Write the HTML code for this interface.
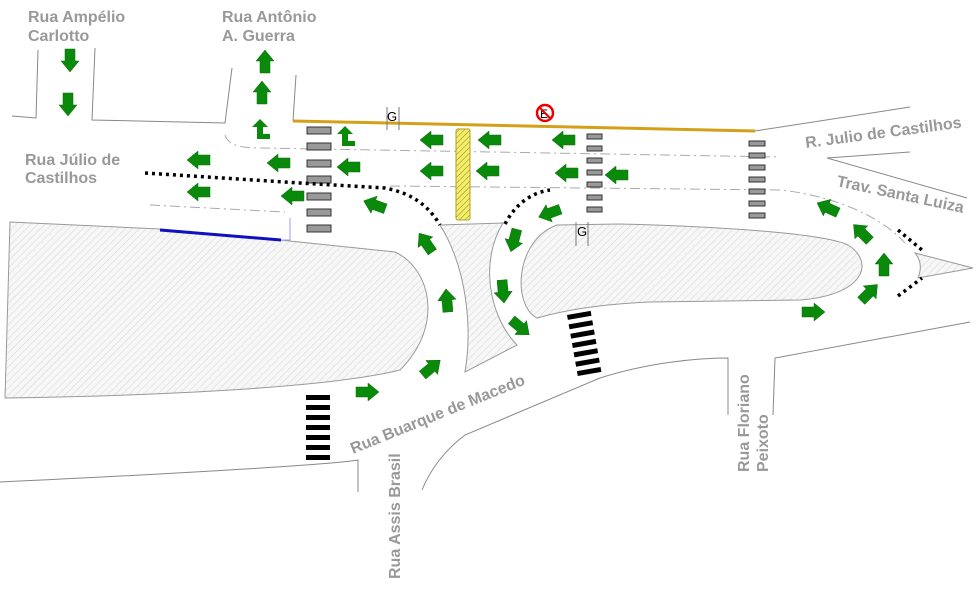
<!DOCTYPE html>
<html><head><meta charset="utf-8"><style>
html,body{margin:0;padding:0;background:#fff;}
svg{display:block;}
text{font-family:"Liberation Sans",sans-serif;font-weight:bold;font-size:16px;fill:#999;}
</style></head><body>
<svg width="980" height="591" viewBox="0 0 980 591" xmlns="http://www.w3.org/2000/svg">
<defs>
<pattern id="h" width="5" height="5" patternUnits="userSpaceOnUse" patternTransform="rotate(45)">
<rect width="5" height="5" fill="#f7f7f7"/><line x1="0" y1="0" x2="0" y2="5" stroke="#d4d4d4" stroke-width="1"/></pattern>
<pattern id="y" width="4" height="4" patternUnits="userSpaceOnUse" patternTransform="rotate(45)">
<rect width="4" height="4" fill="#f5ee6a"/><line x1="0" y1="0" x2="0" y2="4" stroke="#8a8420" stroke-width="1"/></pattern>
<polygon id="a" points="-11,-5 1,-5 1,-9 12,0 1,9 1,5 -11,5" fill="#0a8a0a" stroke="#0a6a0a" stroke-width="0.5"/>
<path id="t" d="M-3,9 L-3,-3 L-8,-3 L0,-11 L8,-3 L3,-3 L3,4 L10,4 L10,9 Z" fill="#0a8a0a"/>
</defs>

<path d="M10,222 L160,229 L280,240 L395,252 C430,268 445,325 400,370 C340,385 200,395 5,398 Z" fill="url(#h)" stroke="#999" stroke-width="1"/>
<path d="M440,225 C468,270 472,330 465,372 L517,345 C488,315 480,260 503,223 Z" fill="url(#h)" stroke="#999" stroke-width="1"/>
<path d="M537,318 C512,305 515,240 557,225 L620,224 C700,226 820,232 848,245 C875,262 865,295 800,300 L650,302 C600,304 565,310 537,318 Z" fill="url(#h)" stroke="#999" stroke-width="1"/>
<path d="M915,253 L973,268 L918,278 C922,268 921,260 915,253 Z" fill="url(#h)" stroke="#999" stroke-width="1"/>

<g stroke="#888" stroke-width="1" fill="none">
<path d="M38,50 L36,118 L12,116"/>
<path d="M95,48 L92,120 L225,123 L232,68"/>
<path d="M296,75 L293,121"/>
<path d="M755,131 L910,107"/>
<path d="M910,152 L827,158 L967,198"/>
<path d="M0,482 C150,475 330,465 358,460 L358,492"/>
<path d="M422,490 C430,470 445,450 465,435 L600,378 C650,362 700,358 728,358 L728,415"/>
<path d="M773,415 L775,358 L970,322"/>
<path d="M290,218 L290,240 L282,240" stroke="#9999ff"/>
</g>
<g stroke="#aaa" stroke-width="1" fill="none" stroke-dasharray="10,4,2,4">
<path d="M225,135 C228,145 240,148 260,148 L780,157"/>
<path d="M390,186 L780,190 C830,195 880,215 905,243"/>
<path d="M150,205 L285,212"/>
</g>

<line x1="293" y1="121" x2="755" y2="131" stroke="#d4a017" stroke-width="3"/>
<g stroke="#777" stroke-width="1"><line x1="387" y1="107" x2="387" y2="130"/><line x1="399" y1="107" x2="399" y2="130"/>
<line x1="576" y1="222" x2="576" y2="246"/><line x1="588" y1="222" x2="588" y2="246"/></g>
<text x="387" y="121" style="font-weight:normal;font-size:13px;fill:#000">G</text>
<text x="577" y="236" style="font-weight:normal;font-size:13px;fill:#000">G</text>
<circle cx="545" cy="113" r="8" fill="#fff" stroke="#e00" stroke-width="2.5"/>
<text x="540" y="118" style="font-weight:normal;font-size:12px;fill:#000">E</text>
<line x1="539" y1="107" x2="551" y2="119" stroke="#e00" stroke-width="2"/>

<rect x="456" y="129" width="14" height="91" rx="2" fill="url(#y)" stroke="#b0a020" stroke-width="1"/>
<line x1="160" y1="230" x2="281" y2="240" stroke="#1010c0" stroke-width="3"/>

<g fill="#999" stroke="#333" stroke-width="1">
<rect x="307" y="127" width="24" height="7"/><rect x="307" y="143" width="24" height="7"/><rect x="307" y="160" width="24" height="7"/><rect x="307" y="176" width="24" height="7"/><rect x="307" y="193" width="24" height="7"/><rect x="307" y="209" width="24" height="7"/><rect x="307" y="225" width="24" height="7"/>
<rect x="587" y="134" width="15" height="5"/><rect x="587" y="146" width="15" height="5"/><rect x="587" y="158" width="15" height="5"/><rect x="587" y="170" width="15" height="5"/><rect x="587" y="182" width="15" height="5"/><rect x="587" y="195" width="15" height="5"/><rect x="587" y="207" width="15" height="5"/>
<rect x="749" y="141" width="16" height="5"/><rect x="749" y="153" width="16" height="5"/><rect x="749" y="165" width="16" height="5"/><rect x="749" y="177" width="16" height="5"/><rect x="749" y="189" width="16" height="5"/><rect x="749" y="201" width="16" height="5"/><rect x="749" y="213" width="16" height="5"/>
</g>
<g fill="#000">
<rect x="306" y="395" width="24" height="5"/><rect x="306" y="405" width="24" height="5"/><rect x="306" y="415" width="24" height="5"/><rect x="306" y="425" width="24" height="5"/><rect x="306" y="435" width="24" height="5"/><rect x="306" y="445" width="24" height="5"/><rect x="306" y="455" width="24" height="5"/>
<g transform="translate(567,315) rotate(-10)">
<rect x="0" y="0" width="24" height="5"/><rect x="0" y="9.5" width="24" height="5"/><rect x="0" y="19" width="24" height="5"/><rect x="0" y="28.5" width="24" height="5"/><rect x="0" y="38" width="24" height="5"/><rect x="0" y="47.5" width="24" height="5"/><rect x="0" y="57" width="24" height="5"/></g>
</g>

<g stroke="#000" stroke-width="3.5" fill="none" stroke-dasharray="3,4">
<path d="M145,173 L300,183 L385,188 C405,192 425,200 440,225"/>
<path d="M505,224 C515,205 530,193 550,190"/>
<path d="M898,230 L922,250"/>
<path d="M898,296 L922,278"/>
</g>

<use href="#a" transform="translate(70,60) rotate(90)"/>
<use href="#a" transform="translate(68,104) rotate(90)"/>
<use href="#a" transform="translate(265,62) rotate(-90)"/>
<use href="#a" transform="translate(262,93) rotate(-90)"/>
<use href="#t" transform="translate(260,130)"/>
<use href="#t" transform="translate(345,137)"/>
<use href="#a" transform="translate(432,140) rotate(180)"/>
<use href="#a" transform="translate(490,140) rotate(180)"/>
<use href="#a" transform="translate(564,140) rotate(180)"/>
<use href="#a" transform="translate(432,171) rotate(180)"/>
<use href="#a" transform="translate(488,171) rotate(180)"/>
<use href="#a" transform="translate(567,173) rotate(180)"/>
<use href="#a" transform="translate(617,175) rotate(180)"/>
<use href="#a" transform="translate(279,163) rotate(180)"/>
<use href="#a" transform="translate(199,160) rotate(180)"/>
<use href="#a" transform="translate(199,192) rotate(180)"/>
<use href="#a" transform="translate(293,196) rotate(180)"/>
<use href="#a" transform="translate(349,167) rotate(180)"/>
<use href="#a" transform="translate(375,205) rotate(200)"/>
<use href="#a" transform="translate(426,243) rotate(235)"/>
<use href="#a" transform="translate(447,301) rotate(-95)"/>
<use href="#a" transform="translate(431,368) rotate(-40)"/>
<use href="#a" transform="translate(367,392) rotate(0)"/>
<use href="#a" transform="translate(550,213) rotate(160)"/>
<use href="#a" transform="translate(514,240) rotate(105)"/>
<use href="#a" transform="translate(503,291) rotate(85)"/>
<use href="#a" transform="translate(520,327) rotate(40)"/>
<use href="#a" transform="translate(813,312) rotate(0)"/>
<use href="#a" transform="translate(869,293) rotate(-45)"/>
<use href="#a" transform="translate(884,265) rotate(-90)"/>
<use href="#a" transform="translate(862,233) rotate(-135)"/>
<use href="#a" transform="translate(828,208) rotate(-155)"/>

<text x="28" y="22">Rua Ampélio</text>
<text x="28" y="41">Carlotto</text>
<text x="222" y="22">Rua Antônio</text>
<text x="222" y="41">A. Guerra</text>
<text x="25" y="165">Rua Júlio de</text>
<text x="25" y="183">Castilhos</text>
<text transform="translate(806,148) rotate(-7.5)">R. Julio de Castilhos</text>
<text transform="translate(836,186) rotate(12)">Trav. Santa Luiza</text>
<text transform="translate(353,454) rotate(-22)">Rua Buarque de Macedo</text>
<text transform="translate(400,579) rotate(-90)">Rua Assis Brasil</text>
<text transform="translate(749,472) rotate(-90)">Rua Floriano</text>
<text transform="translate(768,472) rotate(-90)">Peixoto</text>
</svg>
</body></html>
